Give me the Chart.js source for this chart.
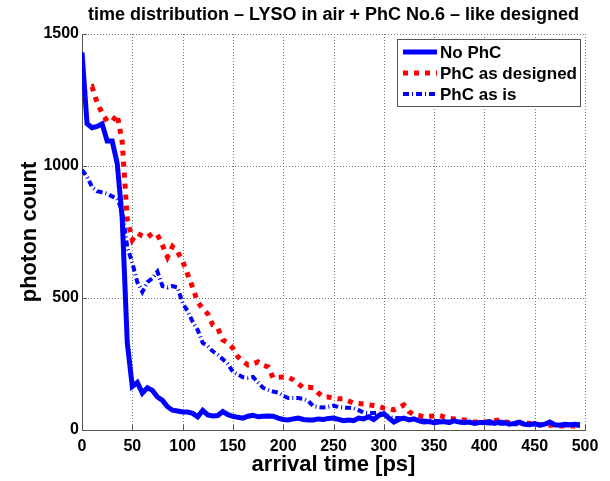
<!DOCTYPE html>
<html>
<head>
<meta charset="utf-8">
<script src="https://cdn.jsdelivr.net/npm/chart.js@4"></script>
<style>
  html, body { margin: 0; padding: 0; background: #fff; }
  #wrap { width: 610px; height: 481px; }
</style>
</head>
<body>
<div id="wrap"><canvas id="timeChart" width="610" height="481"></canvas></div>
<script>
// arrival time bins (ps)
var times = [];
for (var i = 0; i < 100; i++) { times.push(i * 5); }

var noPhc = [1430, 1160, 1145, 1150, 1160, 1095, 1095, 1010, 800, 330,
  165, 180, 140, 160, 150, 125, 112, 88, 75, 72,
  68, 68, 63, 50, 74, 57, 53, 55, 70, 58,
  52, 48, 45, 52, 56, 50, 52, 53, 52, 45,
  40, 38, 42, 45, 40, 38, 38, 42, 40, 44,
  45, 40, 35, 38, 35, 45, 42, 50, 40, 55,
  62, 45, 30, 40, 45, 38, 42, 35, 30, 32,
  28, 30, 32, 28, 35, 30, 28, 30, 25, 28,
  28, 32, 25, 30, 28, 22, 25, 30, 22, 20,
  24, 18, 22, 30, 20, 18, 22, 20, 22, 20];

var phcDesigned = [1280, 1290, 1300, 1240, 1200, 1170, 1170, 1195, 1090, 800,
  720, 745, 735, 730, 745, 740, 700, 655, 695, 675,
  640, 590, 540, 485, 460, 440, 398, 386, 341, 330,
  310, 277, 260, 246, 250, 258, 245, 239, 197, 200,
  201, 200, 190, 175, 160, 162, 160, 140, 125, 125,
  121, 118, 118, 110, 102, 100, 98, 95, 93, 90,
  83, 82, 76, 85, 95, 70, 58, 55, 50, 52,
  53, 55, 50, 45, 42, 40, 38, 35, 30, 30,
  30, 30, 35, 38, 32, 28, 27, 27, 27, 25,
  19, 20, 19, 18, 19, 16, 15, 15, 15, 14];

var phcAsIs = [985, 960, 920, 905, 900, 895, 885, 875, 830, 693,
  633, 560, 523, 560, 575, 600, 545, 540, 545, 540,
  481, 450, 410, 379, 330, 318, 298, 285, 268, 250,
  220, 210, 200, 198, 201, 180, 160, 152, 146, 142,
  130, 121, 121, 121, 118, 110, 90, 87, 85, 88,
  92, 87, 85, 84, 83, 75, 66, 64, 64, 64,
  58, 50, 45, 45, 42, 40, 40, 38, 36, 35,
  35, 33, 32, 32, 30, 30, 28, 28, 27, 26,
  26, 25, 25, 24, 24, 23, 22, 22, 22, 21,
  20, 20, 19, 25, 18, 18, 17, 17, 16, 16];

var seriesLabels = ['No PhC', 'PhC as designed', 'PhC as is'];
var xTicks = [0, 50, 100, 150, 200, 250, 300, 350, 400, 450, 500];
var yTicks = [0, 500, 1000, 1500];
var chartTitle = 'time distribution \u2013 LYSO in air + PhC No.6 \u2013 like designed';

var FONT = '"Liberation Sans", Arial, Helvetica, sans-serif';

function toPoints(arr) {
  return arr.map(function (v, k) { return {x: times[k], y: v}; });
}

// dotted grid drawn by hand (under the lines)
var dottedGrid = {
  id: 'dottedGrid',
  beforeDatasetsDraw: function (chart) {
    var ctx = chart.ctx;
    var a = chart.chartArea;
    var xs = chart.scales.x, ys = chart.scales.y;
    ctx.save();
    ctx.strokeStyle = '#777';
    ctx.lineWidth = 1;
    ctx.setLineDash([1, 2]);
    ctx.beginPath();
    xTicks.forEach(function (t) {
      if (t === 0) return;
      var px = Math.round(xs.getPixelForValue(t)) + 0.5;
      ctx.moveTo(px, a.top); ctx.lineTo(px, a.bottom);
    });
    yTicks.forEach(function (t) {
      if (t === 0) return;
      var py = Math.round(ys.getPixelForValue(t)) + 0.5;
      ctx.moveTo(a.left, py); ctx.lineTo(a.right, py);
    });
    ctx.stroke();
    ctx.restore();
  }
};

// title centred over the plot box, not over the canvas
var plotTitle = {
  id: 'plotTitle',
  afterDraw: function (chart) {
    var ctx = chart.ctx;
    var a = chart.chartArea;
    ctx.save();
    ctx.font = 'bold 18px ' + FONT;
    ctx.fillStyle = '#000';
    ctx.textAlign = 'center';
    ctx.textBaseline = 'middle';
    ctx.fillText(chartTitle, (a.left + a.right) / 2, 15.5);
    ctx.restore();
  }
};

// small inward tick marks
var innerTicks = {
  id: 'innerTicks',
  afterDraw: function (chart) {
    var ctx = chart.ctx;
    var a = chart.chartArea;
    var xs = chart.scales.x, ys = chart.scales.y;
    ctx.save();
    ctx.strokeStyle = '#555';
    ctx.lineWidth = 1;
    ctx.beginPath();
    xTicks.forEach(function (t) {
      var px = Math.round(xs.getPixelForValue(t)) + 0.5;
      ctx.moveTo(px, a.bottom); ctx.lineTo(px, a.bottom - 5);
    });
    yTicks.forEach(function (t) {
      var py = Math.round(ys.getPixelForValue(t)) + 0.5;
      ctx.moveTo(a.left, py); ctx.lineTo(a.left + 5, py);
    });
    ctx.stroke();
    ctx.restore();
  }
};

// legend box inside the plot, top right
var boxLegend = {
  id: 'boxLegend',
  afterDraw: function (chart) {
    var ctx = chart.ctx;
    var a = chart.chartArea;
    var w = 183, h = 67;
    var x0 = a.right - w - 5, y0 = a.top + 5;
    ctx.save();
    ctx.fillStyle = '#fff';
    ctx.fillRect(x0, y0, w, h);
    ctx.strokeStyle = '#555';
    ctx.lineWidth = 1;
    ctx.strokeRect(x0 + 0.5, y0 + 0.5, w, h);
    ctx.font = 'bold 17px ' + FONT;
    ctx.textBaseline = 'middle';
    chart.data.datasets.forEach(function (ds, k) {
      var yy = y0 + 13 + k * 21;
      ctx.strokeStyle = ds.borderColor;
      ctx.lineWidth = ds.borderWidth;
      ctx.setLineDash(ds.borderDash || []);
      ctx.beginPath();
      ctx.moveTo(x0 + 6, yy);
      ctx.lineTo(x0 + 40, yy);
      ctx.stroke();
      ctx.setLineDash([]);
      ctx.fillStyle = '#000';
      ctx.fillText(ds.label, x0 + 43, yy + 1);
    });
    ctx.restore();
  }
};

new Chart(document.getElementById('timeChart'), {
  type: 'line',
  data: {
    datasets: [{
      label: seriesLabels[0],
      data: toPoints(noPhc),
      borderColor: '#0000ff',
      borderWidth: 5,
      borderDash: [],
      pointRadius: 0,
      fill: false
    }, {
      label: seriesLabels[1],
      data: toPoints(phcDesigned),
      borderColor: '#ff0000',
      borderWidth: 5,
      borderDash: [5, 6],
      pointRadius: 0,
      fill: false
    }, {
      label: seriesLabels[2],
      data: toPoints(phcAsIs),
      borderColor: '#0000ff',
      borderWidth: 4,
      borderDash: [6, 3, 1, 3],
      pointRadius: 0,
      fill: false
    }]
  },
  options: {
    responsive: false,
    animation: false,
    layout: { padding: { right: 25, top: 34, left: 0, bottom: 0 } },
    plugins: {
      legend: { display: false },
      tooltip: { enabled: false },
      title: { display: false }
    },
    scales: {
      x: {
        type: 'linear',
        min: 0,
        max: 500,
        afterFit: function (s) { s.height = 51; },
        afterBuildTicks: function (s) { s.ticks = xTicks.map(function (v) { return {value: v}; }); },
        ticks: {
          color: '#000',
          padding: 7,
          maxRotation: 0,
          font: { family: FONT, size: 16, weight: 'bold' }
        },
        grid: { display: false, drawTicks: false },
        border: { display: true, color: '#555', width: 1 },
        title: {
          display: true,
          text: 'arrival time [ps]',
          color: '#000',
          font: { family: FONT, size: 22, weight: 'bold', lineHeight: 1.2 },
          padding: { top: 0, bottom: 3 }
        }
      },
      y: {
        min: 0,
        max: 1500,
        afterFit: function (s) { s.width = 82; },
        afterBuildTicks: function (s) { s.ticks = yTicks.map(function (v) { return {value: v}; }); },
        ticks: {
          color: '#000',
          padding: 3,
          font: { family: FONT, size: 16, weight: 'bold' },
          callback: function (v) { return String(v); }
        },
        grid: { display: false, drawTicks: false },
        border: { display: true, color: '#555', width: 1 },
        title: {
          display: true,
          text: 'photon count',
          color: '#000',
          font: { family: FONT, size: 22, weight: 'bold', lineHeight: 1.2 },
          padding: { top: 17, bottom: 0 }
        }
      }
    }
  },
  plugins: [dottedGrid, plotTitle, innerTicks, boxLegend]
});
</script>
</body>
</html>
